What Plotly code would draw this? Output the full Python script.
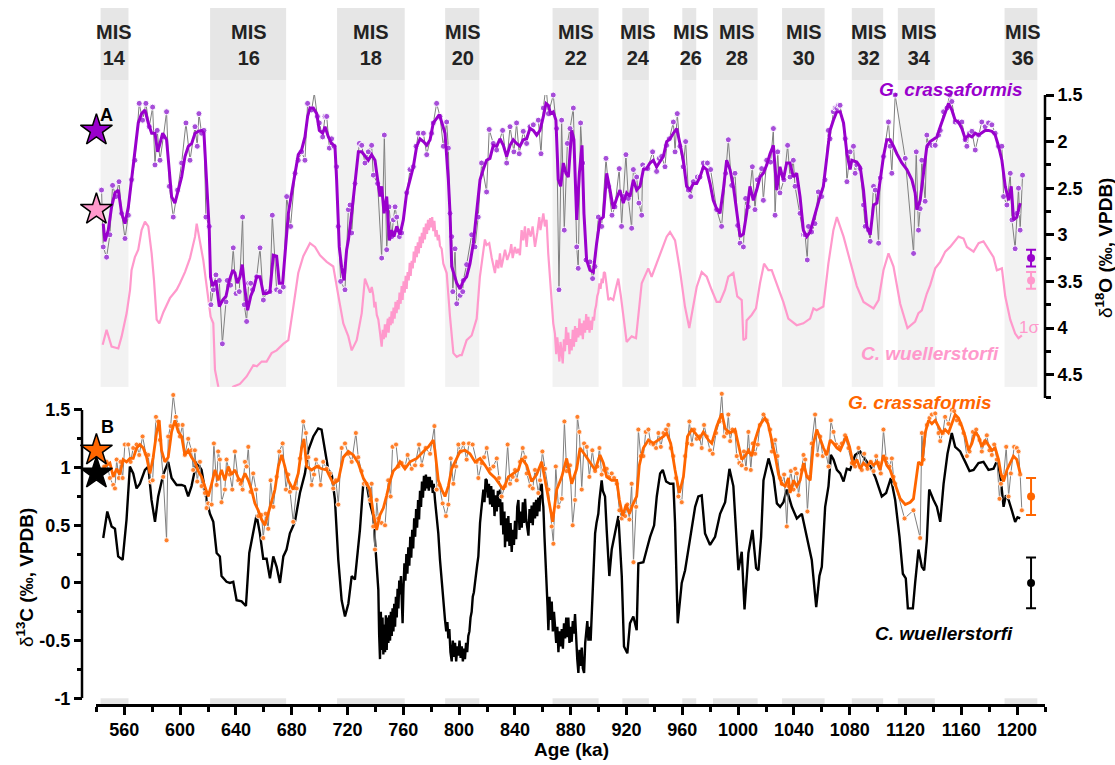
import plotly.graph_objects as go

# ---------------- DATA ----------------
x_ticks = list(range(560, 1201, 40))
d18o_ticks = [1.5, 2, 2.5, 3, 3.5, 4, 4.5]
d13c_ticks = [-1, -0.5, 0, 0.5, 1, 1.5]
d13c_ticktext = ["-1", "-0.5", "0", "0.5", "1", "1.5"]

mis_names = ["14", "16", "18", "20", "22", "24", "26", "28", "30", "32", "34", "36"]
mis_start = [543, 621.5, 712.5, 790, 867, 917, 960, 982, 1031.5, 1081.5, 1114.5, 1191]
mis_end = [563, 676, 761, 814.5, 900, 936, 970, 1014, 1062, 1104, 1141, 1214.5]
mis_label_age = [552.5, 649.5, 737, 803, 884, 928, 966, 999, 1047, 1093.5, 1129.5, 1204]

# G. crassaformis d18O, smoothed
gc_d18o_smooth = [(544.9,2.88),(546.1,3.07),(548.5,2.95),(550.9,2.70),(553.3,2.55),(555.7,2.52),(558.1,2.77),(560.5,2.88),(562.9,2.70),(565.2,2.41),(567.6,2.05),(570.0,1.80),(572.4,1.70),(574.8,1.66),(577.2,1.80),(579.6,1.91),(582.0,1.91),(583.9,2.11),(585.6,2.02),(587.5,1.91),(590.3,1.98),(592.3,2.30),(593.9,2.59),(596.3,2.66),(598.7,2.52),(601.1,2.38),(603.5,2.16),(605.9,2.05),(608.3,2.02),(610.7,1.91),(613.0,1.89),(615.4,1.88),(617.1,1.91),(619.0,2.41),(620.9,2.95),(621.8,3.45),(623.3,3.55),(625.7,3.49),(628.1,3.77),(630.5,3.70),(632.9,3.66),(635.3,3.49),(637.7,3.38),(639.3,3.41),(641.0,3.52),(642.9,3.45),(644.6,3.32),(646.5,3.59),(648.4,3.81),(650.6,3.66),(652.5,3.59),(654.9,3.45),(657.3,3.45),(659.7,3.63),(662.0,3.63),(664.4,3.61),(666.8,3.22),(669.2,3.23),(671.1,3.52),(673.5,3.52),(675.2,3.20),(677.6,2.77),(680.0,2.55),(682.4,2.34),(684.7,2.14),(687.1,2.09),(689.5,1.95),(691.4,1.73),(693.1,1.64),(695.5,1.64),(697.9,1.70),(699.8,1.88),(702.2,1.91),(703.9,1.84),(706.3,1.95),(708.6,2.02),(711.0,2.05),(712.2,2.41),(714.1,3.13),(715.8,3.35),(717.5,3.49),(719.4,3.16),(720.6,3.06),(723.0,2.77),(725.4,2.45),(727.8,2.11),(730.2,2.11),(732.5,2.16),(734.9,2.20),(737.3,2.14),(739.7,2.20),(741.6,2.41),(743.3,2.59),(744.5,2.48),(746.2,2.77),(748.1,2.59),(750.0,3.06),(751.7,2.95),(753.3,3.02),(755.3,2.91),(757.6,3.00),(760.0,2.84),(762.4,2.55),(764.8,2.41),(767.2,2.27),(769.6,2.05),(772.0,1.97),(774.4,2.00),(776.8,2.04),(779.2,1.98),(781.5,1.80),(783.9,1.75),(785.8,1.71),(787.5,1.79),(789.9,1.91),(792.3,2.41),(793.5,2.77),(794.7,3.34),(795.9,3.40),(798.3,3.52),(800.7,3.58),(803.1,3.49),(805.4,3.45),(807.8,3.31),(810.2,3.09),(812.6,2.77),(815.0,2.41),(817.3,2.30),(819.7,2.20),(822.1,2.18),(824.5,2.04),(826.9,2.05),(829.3,1.97),(831.7,2.04),(834.1,2.16),(836.5,2.04),(838.8,1.98),(841.2,2.02),(843.6,2.05),(846.0,1.98),(848.4,1.97),(850.8,1.86),(853.2,1.88),(855.6,1.93),(858.0,1.88),(860.4,1.73),(862.3,1.59),(864.0,1.61),(865.6,1.70),(867.5,1.68),(869.4,1.77),(871.1,2.41),(872.8,2.48),(874.7,2.23),(876.6,2.34),(878.3,2.38),(880.7,1.88),(882.3,1.98),(884.3,2.84),(886.2,2.34),(888.1,2.04),(889.5,2.77),(891.4,3.27),(893.8,3.38),(896.2,3.40),(898.6,3.09),(901.0,2.84),(903.4,2.81),(905.8,2.34),(908.2,2.52),(910.5,2.72),(912.9,2.61),(915.3,2.52),(917.7,2.66),(920.1,2.55),(922.5,2.59),(924.9,2.41),(927.3,2.52),(929.7,2.48),(932.1,2.30),(934.4,2.29),(936.8,2.23),(939.2,2.20),(941.6,2.27),(944.0,2.22),(946.4,2.16),(948.8,2.00),(951.2,1.97),(953.6,1.91),(956.0,1.86),(958.3,2.02),(960.7,2.20),(963.1,2.48),(965.5,2.52),(967.9,2.45),(970.3,2.45),(972.7,2.38),(975.1,2.27),(977.5,2.30),(979.9,2.45),(982.2,2.63),(984.6,2.72),(987.0,2.77),(989.4,2.52),(991.8,2.20),(994.2,2.30),(996.6,2.48),(999.0,2.77),(1001.4,3.02),(1003.8,2.99),(1006.1,2.77),(1008.5,2.48),(1010.9,2.63),(1013.3,2.52),(1015.7,2.38),(1018.1,2.34),(1020.5,2.25),(1022.9,2.13),(1025.3,2.04),(1027.7,2.52),(1030.0,2.27),(1032.4,2.41),(1034.8,2.23),(1037.2,2.23),(1039.6,2.38),(1042.0,2.34),(1044.4,2.59),(1046.8,2.95),(1049.2,3.02),(1051.6,2.97),(1053.9,2.84),(1056.3,2.70),(1058.7,2.59),(1061.1,2.48),(1063.5,2.20),(1065.9,1.88),(1068.3,1.77),(1070.7,1.68),(1073.2,1.68),(1075.6,1.80),(1078.0,2.13),(1080.3,2.30),(1081.5,2.20),(1085.1,2.22),(1087.5,2.27),(1089.9,2.52),(1092.3,2.91),(1094.7,3.00),(1097.1,2.68),(1099.5,2.66),(1101.9,2.41),(1104.2,2.16),(1106.6,1.98),(1109.0,1.98),(1111.4,2.05),(1113.8,2.13),(1117.4,2.23),(1121.0,2.30),(1124.6,2.41),(1126.9,2.55),(1128.1,2.73),(1130.5,2.63),(1132.9,2.34),(1135.3,2.05),(1137.7,2.00),(1142.5,1.95),(1144.9,1.84),(1147.3,1.73),(1150.8,1.59),(1153.2,1.66),(1155.6,1.77),(1158.0,1.79),(1160.4,1.86),(1162.8,1.97),(1165.2,1.93),(1167.6,1.95),(1170.0,1.91),(1172.4,1.93),(1174.7,1.91),(1177.1,1.88),(1179.5,1.88),(1181.9,1.89),(1184.3,1.93),(1186.7,2.05),(1189.1,2.20),(1191.5,2.48),(1193.9,2.63),(1195.8,2.48),(1197.5,2.84),(1199.8,2.81),(1202.2,2.66)]

# G. crassaformis d18O, measured points
gc_d18o_raw = [(543.7,2.52),(544.9,3.13),(547.3,3.24),(549.7,3.00),(551.6,2.47),(554.0,2.59),(556.2,2.43),(558.1,2.77),(560.5,3.04),(562.9,2.79),(565.2,2.41),(567.6,2.20),(570.7,1.59),(573.1,1.77),(575.5,1.59),(577.9,1.84),(580.3,1.63),(582.0,2.25),(583.6,1.88),(585.6,2.20),(588.0,1.95),(590.3,1.68),(592.3,2.48),(595.1,2.81),(598.2,2.52),(601.1,2.23),(604.2,1.80),(607.1,2.20),(610.7,1.84),(612.3,2.05),(613.5,1.70),(615.4,1.91),(617.1,1.88),(618.5,2.81),(620.9,2.91),(622.1,3.75),(623.8,3.59),(625.7,3.43),(628.1,3.49),(630.3,4.17),(632.9,3.72),(633.8,3.49),(636.2,3.54),(638.1,3.14),(640.1,3.63),(642.4,3.61),(644.8,2.81),(646.0,3.75),(647.7,3.93),(649.1,3.52),(650.6,3.52),(652.0,3.59),(654.9,3.45),(657.3,3.14),(659.7,3.70),(662.0,3.61),(664.4,3.61),(666.1,2.79),(669.2,3.59),(671.6,3.61),(674.0,3.56),(676.4,2.59),(679.2,2.91),(682.4,2.34),(684.7,2.20),(687.1,2.11),(689.5,2.20),(691.4,1.59),(694.3,1.66),(696.2,1.48),(698.4,1.73),(699.8,1.80),(702.2,1.95),(703.9,1.73),(705.1,1.73),(707.0,2.07),(708.6,1.97),(710.3,2.05),(712.2,2.27),(713.4,2.91),(715.1,3.50),(718.2,3.59),(720.6,2.73),(721.8,2.68),(723.0,2.98),(725.4,2.45),(728.5,2.02),(730.2,2.04),(732.5,2.23),(734.9,2.11),(737.3,2.04),(738.5,2.36),(741.6,2.45),(744.5,3.25),(746.4,1.93),(748.1,3.16),(749.8,2.70),(751.7,3.02),(752.9,2.84),(754.1,2.70),(755.3,2.81),(757.2,3.02),(758.8,2.98),(762.4,2.55),(764.8,2.30),(767.2,2.27),(769.1,2.05),(770.8,1.91),(774.4,1.91),(776.8,2.14),(780.3,1.91),(781.5,1.80),(783.9,1.59),(786.3,1.73),(788.7,2.05),(791.1,1.79),(792.3,2.07),(793.5,2.77),(794.7,3.02),(795.5,3.61),(797.1,3.15),(798.3,3.74),(800.7,3.65),(802.6,3.61),(803.0,3.49),(805.4,3.32),(809.0,3.00),(811.4,3.13),(813.7,2.81),(816.1,2.23),(819.7,2.54),(821.6,1.87),(824.5,2.02),(826.9,2.09),(831.2,1.88),(834.1,2.23),(836.5,1.84),(839.3,2.11),(841.2,1.80),(843.1,2.13),(846.0,1.89),(848.4,2.02),(850.8,1.84),(853.2,1.82),(856.8,1.77),(858.7,2.13),(860.4,1.64),(862.3,1.40),(864.0,1.70),(867.5,1.50),(869.9,1.86),(871.6,3.59),(873.5,1.77),(875.4,2.95),(877.6,2.02),(879.5,1.86),(881.9,1.64),(884.3,3.13),(885.4,3.36),(887.1,1.80),(888.6,2.23),(890.9,3.27),(893.8,3.29),(895.7,3.47),(897.4,3.34),(899.8,2.81),(902.2,2.91),(905.3,2.18),(907.0,2.48),(909.6,2.79),(911.7,2.70),(914.8,2.29),(916.5,2.91),(917.7,2.59),(919.6,2.14),(921.3,2.61),(923.7,2.93),(924.9,2.30),(927.3,2.38),(928.9,2.66),(930.9,2.79),(931.6,2.25),(933.2,2.29),(935.2,2.29),(938.7,2.11),(941.6,2.32),(943.5,2.18),(945.2,2.16),(947.6,2.27),(948.8,2.04),(950.7,1.97),(953.6,1.79),(954.8,2.11),(956.4,1.70),(958.3,2.05),(960.7,2.27),(962.4,2.00),(964.3,2.52),(966.0,2.59),(967.9,2.43),(970.8,2.38),(972.7,2.38),(975.1,2.23),(978.0,2.23),(980.3,2.30),(984.6,2.73),(988.2,2.91),(991.1,2.34),(993.0,1.98),(995.4,2.47),(997.8,2.34),(999.7,2.90),(1001.4,3.09),(1003.8,3.13),(1005.4,2.61),(1007.3,2.70),(1010.2,2.27),(1012.1,2.73),(1013.8,2.41),(1016.9,2.29),(1018.1,2.63),(1020.5,2.20),(1023.3,2.22),(1025.3,1.86),(1026.5,2.79),(1028.4,2.11),(1030.0,2.55),(1032.9,2.41),(1035.5,2.04),(1037.2,2.38),(1039.6,2.20),(1040.8,2.48),(1044.4,2.77),(1046.8,3.00),(1048.0,3.00),(1049.6,3.27),(1050.4,2.91),(1052.7,2.97),(1055.1,2.88),(1057.5,2.54),(1059.9,2.59),(1062.3,2.41),(1064.7,1.88),(1065.9,1.97),(1068.3,1.68),(1069.6,1.64),(1070.7,1.64),(1072.0,1.61),(1073.1,1.61),(1076.8,1.97),(1078.0,2.43),(1080.3,2.11),(1082.7,2.05),(1083.9,2.34),(1085.1,2.25),(1087.5,2.29),(1089.9,2.68),(1091.1,2.91),(1093.5,2.95),(1094.7,3.07),(1097.1,2.48),(1098.3,2.52),(1100.7,3.09),(1101.9,2.39),(1104.2,2.16),(1107.8,1.79),(1109.0,2.05),(1110.2,2.34),(1112.6,1.50),(1119.8,2.18),(1125.8,3.20),(1127.7,2.11),(1129.3,2.95),(1130.5,2.72),(1131.7,2.20),(1134.1,2.64),(1135.3,1.93),(1136.5,2.04),(1138.9,2.04),(1141.3,2.04),(1143.7,1.93),(1144.9,1.88),(1147.3,1.68),(1149.7,1.64),(1151.6,1.50),(1153.2,1.57),(1155.6,1.79),(1158.0,1.79),(1160.4,1.79),(1162.8,1.98),(1164.0,2.05),(1165.9,1.91),(1167.6,1.89),(1170.0,2.09),(1172.4,1.93),(1174.7,1.79),(1177.1,1.84),(1179.5,1.80),(1181.9,1.82),(1184.3,1.91),(1186.7,2.05),(1189.1,2.05),(1190.3,2.59),(1192.7,2.68),(1195.1,2.34),(1196.3,2.84),(1198.6,3.15),(1199.8,2.77),(1201.0,2.50),(1202.2,2.95),(1203.9,2.36)]

# C. wuellerstorfi d18O
cw_d18o = [(544.5,4.18),(547.3,4.02),(550.9,4.20),(555.7,4.22),(558.1,4.09),(561.7,3.84),(564.1,3.59),(565.2,3.38),(567.6,3.24),(570.0,3.16),(572.4,2.95),(574.8,2.86),(577.2,2.91),(579.6,3.20),(581.3,3.49),(583.2,3.91),(585.1,3.95),(588.0,3.83),(592.7,3.68),(597.5,3.59),(599.9,3.52),(603.5,3.40),(607.1,3.25),(610.7,3.02),(611.9,2.88),(614.2,3.06),(616.6,3.27),(618.5,3.49),(620.2,3.66),(621.9,3.88),(623.8,3.95),(625.0,4.45),(627.4,4.63),(630.5,4.83),(633.4,4.74),(638.1,4.63),(642.9,4.60),(647.7,4.52),(652.5,4.40),(655.0,4.41),(658.5,4.36),(662.0,4.36),(665.6,4.27),(669.2,4.24),(674.0,4.17),(677.6,4.13),(681.2,3.77),(684.7,3.41),(688.3,3.23),(693.1,3.09),(696.7,3.13),(700.3,3.22),(705.1,3.29),(709.8,3.34),(713.4,3.65),(717.0,3.95),(720.6,4.09),(723.0,4.24),(726.6,4.13),(730.2,3.84),(732.5,3.47),(734.9,3.58),(736.2,3.62),(737.4,3.56),(738.5,3.65),(739.3,3.78),(740.0,3.72),(741.0,3.86),(742.1,3.91),(743.3,4.05),(744.5,4.20),(745.3,4.02),(746.0,4.12),(746.8,3.96),(747.4,4.10),(748.1,4.00),(748.9,3.90),(749.5,4.05),(750.2,3.88),(751.0,3.97),(751.6,3.82),(752.3,3.95),(753.0,3.78),(753.8,3.90),(754.4,3.72),(755.2,3.84),(756.0,3.70),(756.6,3.80),(757.3,3.62),(758.1,3.74),(758.8,3.55),(759.5,3.70),(760.2,3.50),(761.0,3.62),(761.7,3.44),(762.4,3.58),(763.1,3.40),(763.9,3.49),(764.6,3.30),(765.3,3.44),(766.0,3.28),(766.8,3.36),(767.5,3.18),(768.2,3.30),(768.9,3.12),(769.7,3.24),(770.4,3.08),(771.1,3.20),(771.8,3.02),(772.6,3.14),(773.3,2.98),(774.0,3.09),(774.7,2.92),(775.5,3.05),(776.2,2.88),(777.0,2.99),(777.7,2.84),(778.4,2.95),(779.2,2.82),(780.0,2.92),(780.7,2.81),(781.5,2.96),(782.3,2.85),(783.1,3.02),(783.9,2.95),(784.7,3.06),(785.5,3.00),(786.3,3.12),(787.5,3.15),(788.7,3.31),(791.1,3.41),(793.5,3.88),(795.9,4.27),(798.3,4.31),(800.6,4.29),(801.9,4.29),(805.4,4.13),(809.0,4.08),(812.6,3.90),(814.9,3.45),(817.3,3.20),(818.5,3.05),(819.7,3.11),(821.6,3.09),(823.3,3.24),(825.7,3.41),(826.9,3.27),(828.1,3.36),(829.3,3.20),(830.3,3.35),(831.2,3.29),(832.9,3.16),(834.5,3.27),(836.5,3.18),(837.4,3.10),(838.4,3.25),(840.0,3.13),(841.2,3.20),(842.4,3.15),(843.6,3.22),(844.8,2.95),(846.0,3.06),(847.2,2.91),(848.4,3.13),(849.6,2.93),(851.3,3.02),(852.7,2.91),(853.5,3.05),(854.4,3.13),(856.0,2.98),(857.5,2.81),(858.3,2.95),(859.2,2.88),(860.4,2.77),(861.5,2.91),(862.7,2.84),(863.9,3.20),(865.1,3.49),(866.3,3.66),(867.5,3.95),(868.7,4.06),(869.6,4.28),(870.4,4.10),(871.1,4.27),(871.9,4.36),(872.7,4.15),(873.5,4.30),(874.3,4.38),(875.1,4.12),(875.9,4.25),(876.7,3.99),(877.5,4.18),(878.3,4.05),(879.1,4.28),(879.9,4.12),(880.7,4.24),(881.5,4.02),(882.3,4.20),(883.1,3.98),(883.9,4.15),(884.7,4.00),(885.5,4.10),(886.3,3.90),(887.1,4.08),(887.9,3.95),(888.7,4.12),(889.5,3.92),(890.3,4.05),(891.1,3.85),(891.9,4.02),(892.7,3.88),(893.5,4.05),(894.3,3.92),(895.1,4.02),(895.9,3.88),(896.7,3.92),(897.4,3.81),(898.2,3.76),(899.0,3.66),(899.8,3.62),(900.6,3.52),(901.4,3.58),(902.2,3.47),(903.0,3.52),(903.8,3.40),(904.6,3.41),(905.8,3.55),(907.0,3.70),(908.5,3.68),(910.5,3.70),(912.3,3.58),(914.1,3.47),(915.9,3.65),(917.7,3.88),(920.1,4.15),(923.7,4.09),(926.8,4.11),(930.9,3.52),(933.0,3.45),(935.6,3.36),(938.0,3.45),(941.6,3.31),(945.2,3.16),(948.8,3.02),(951.2,2.97),(954.8,3.06),(958.3,3.38),(961.9,3.77),(965.0,4.00),(967.9,3.77),(970.3,3.56),(973.9,3.40),(977.5,3.45),(981.0,3.59),(984.6,3.72),(987.0,3.72),(990.6,3.59),(993.0,3.45),(996.6,3.41),(999.4,3.66),(1002.6,3.70),(1003.8,4.13),(1005.7,4.11),(1006.1,3.92),(1009.7,3.86),(1012.8,3.79),(1015.7,3.52),(1018.6,3.31),(1021.7,3.38),(1024.1,3.38),(1027.7,3.52),(1032.4,3.72),(1036.0,3.90),(1042.0,3.97),(1046.8,3.95),(1051.6,3.90),(1054.0,3.79),(1056.3,3.81),(1061.1,3.77),(1064.7,3.31),(1068.3,2.95),(1070.8,2.81),(1075.6,3.02),(1080.3,3.27),(1085.1,3.55),(1089.9,3.72),(1097.1,3.79),(1100.7,3.70),(1104.2,3.38),(1107.8,3.20),(1111.4,3.34),(1116.2,3.74),(1121.4,4.00),(1126.9,3.93),(1129.3,3.84),(1131.7,3.81),(1135.3,3.63),(1137.7,3.54),(1141.3,3.36),(1144.9,3.29),(1148.5,3.18),(1152.0,3.13),(1158.0,3.02),(1161.6,3.04),(1164.0,3.13),(1168.8,3.18),(1172.4,3.09),(1175.9,3.07),(1179.5,3.16),(1183.1,3.24),(1185.5,3.38),(1189.1,3.36),(1191.5,3.66),(1195.1,3.91),(1198.6,4.06),(1201.0,4.11),(1203.4,4.08)]

# C. wuellerstorfi d13C
cw_d13c = [(544.9,0.39),(547.8,0.62),(550.9,0.49),(553.3,0.47),(555.6,0.23),(558.8,0.20),(561.6,0.55),(564.0,1.01),(566.4,0.95),(568.8,0.82),(571.2,0.86),(574.8,0.98),(577.2,1.01),(579.5,0.72),(582.0,0.53),(584.3,0.75),(587.9,0.94),(591.5,1.05),(593.9,0.91),(597.5,0.85),(601.1,0.85),(603.4,0.84),(605.8,0.75),(608.2,0.84),(611.8,1.05),(615.4,0.98),(619.0,0.72),(621.4,0.60),(623.8,0.53),(626.2,0.26),(628.5,0.23),(629.7,0.06),(633.3,0.01),(635.7,0.0),(638.1,0.01),(640.5,-0.15),(644.1,-0.16),(647.2,-0.20),(649.6,0.26),(652.0,0.40),(654.8,0.59),(657.2,0.43),(659.6,0.21),(662.0,0.21),(664.4,0.04),(666.8,0.23),(669.2,0.14),(671.6,0.0),(674.0,0.23),(676.3,0.29),(678.7,0.43),(682.3,0.53),(685.9,0.78),(689.5,0.95),(691.9,1.15),(695.5,1.27),(699.0,1.34),(701.4,1.33),(703.8,1.17),(706.2,0.98),(708.6,0.95),(711.0,0.72),(713.4,0.20),(715.8,-0.15),(718.2,-0.29),(720.6,-0.18),(723.0,0.06),(725.3,0.03),(728.9,0.46),(731.3,0.86),(733.7,0.86),(736.1,0.69),(738.5,0.58),(740.9,0.17),(741.5,0.10),(742.1,-0.06),(742.7,-0.45),(743.3,-0.66),(743.9,-0.25),(744.5,-0.58),(745.1,-0.30),(745.7,-0.62),(746.3,-0.36),(746.9,-0.60),(747.5,-0.28),(748.1,-0.58),(748.7,-0.30),(749.3,-0.52),(749.9,-0.28),(750.5,-0.50),(751.1,-0.25),(751.7,-0.46),(752.3,-0.22),(752.9,-0.42),(753.5,-0.18),(754.1,-0.38),(754.7,-0.12),(755.3,-0.30),(755.9,-0.05),(756.5,-0.22),(757.1,0.02),(757.7,-0.10),(758.3,0.06),(758.9,-0.25),(759.5,-0.35),(760.1,-0.05),(760.8,0.17),(761.5,0.02),(762.2,0.25),(762.9,0.08),(763.6,0.31),(764.3,0.15),(765.0,0.40),(765.7,0.22),(766.4,0.46),(767.1,0.30),(767.8,0.56),(768.5,0.40),(769.2,0.64),(769.9,0.48),(770.6,0.72),(771.3,0.55),(772.0,0.80),(772.7,0.66),(773.4,0.88),(774.1,0.74),(774.8,0.93),(775.5,0.80),(776.2,0.94),(776.9,0.82),(777.6,0.92),(778.3,0.80),(779.0,0.92),(779.7,0.83),(780.4,0.89),(781.1,0.78),(781.8,0.86),(782.7,0.72),(784.0,0.55),(785.1,0.43),(786.3,0.20),(787.5,0.0),(788.7,-0.18),(789.9,-0.32),(790.8,-0.42),(791.6,-0.34),(792.3,-0.48),(793.0,-0.40),(793.8,-0.60),(794.7,-0.68),(795.5,-0.50),(796.3,-0.64),(797.1,-0.52),(797.9,-0.68),(798.7,-0.55),(799.5,-0.63),(800.3,-0.50),(801.1,-0.65),(801.9,-0.55),(802.7,-0.68),(803.5,-0.57),(804.2,-0.66),(805.0,-0.52),(805.8,-0.60),(806.6,-0.46),(807.4,-0.42),(808.2,-0.30),(809.0,-0.25),(809.8,-0.12),(810.6,-0.08),(811.4,0.0),(812.2,0.10),(813.0,0.16),(813.8,0.23),(814.4,0.40),(815.0,0.52),(815.8,0.62),(816.6,0.74),(817.4,0.81),(818.2,0.70),(819.0,0.90),(819.8,0.89),(820.6,0.74),(821.4,0.86),(822.2,0.68),(823.0,0.84),(823.8,0.66),(824.6,0.81),(825.4,0.58),(826.2,0.76),(827.0,0.62),(827.8,0.80),(828.6,0.66),(829.3,0.81),(830.1,0.50),(830.9,0.70),(831.7,0.42),(832.5,0.62),(832.9,0.31),(833.7,0.56),(834.5,0.36),(835.3,0.58),(836.1,0.32),(836.9,0.52),(837.7,0.27),(838.5,0.46),(839.3,0.33),(840.1,0.54),(840.9,0.38),(841.7,0.66),(842.5,0.72),(843.3,0.46),(844.1,0.62),(844.9,0.48),(845.7,0.70),(846.5,0.52),(847.3,0.73),(848.1,0.55),(848.9,0.46),(849.7,0.41),(850.5,0.64),(851.3,0.52),(852.0,0.67),(852.8,0.50),(853.6,0.70),(854.4,0.56),(855.2,0.72),(856.0,0.58),(856.8,0.74),(857.6,0.62),(858.4,0.82),(859.2,0.86),(860.0,0.70),(860.4,0.66),(861.2,0.40),(862.0,0.20),(862.8,0.06),(863.4,-0.20),(864.0,-0.41),(864.8,-0.12),(865.6,-0.32),(866.4,-0.16),(867.2,-0.42),(868.0,-0.25),(868.8,-0.38),(869.6,-0.52),(870.4,-0.38),(871.2,-0.60),(872.0,-0.42),(872.8,-0.55),(873.6,-0.40),(874.4,-0.57),(875.2,-0.35),(876.0,-0.48),(876.8,-0.30),(877.6,-0.47),(878.3,-0.30),(879.1,-0.52),(879.9,-0.38),(880.7,-0.51),(881.5,-0.33),(882.3,-0.44),(883.1,-0.27),(883.9,-0.52),(884.7,-0.66),(885.5,-0.78),(886.3,-0.58),(887.1,-0.72),(887.9,-0.56),(888.7,-0.74),(889.6,-0.78),(890.4,-0.52),(891.2,-0.40),(891.9,-0.33),(892.7,-0.50),(893.5,-0.38),(894.3,-0.50),(895.1,-0.25),(895.8,0.0),(896.6,0.25),(897.5,0.43),(898.5,0.52),(899.8,0.60),(900.6,0.72),(901.4,0.80),(902.2,0.89),(903.0,0.80),(904.6,0.75),(905.8,0.46),(906.8,0.25),(907.7,0.06),(909.4,0.29),(911.8,0.43),(914.2,0.58),(916.6,0.06),(918.2,-0.55),(920.6,-0.61),(922.5,-0.35),(924.9,-0.29),(927.3,-0.41),(928.5,0.17),(932.1,0.18),(934.5,0.29),(936.9,0.40),(939.8,0.50),(941.7,0.75),(944.1,0.95),(946.0,0.98),(948.4,0.88),(951.2,0.86),(953.6,0.86),(954.8,0.52),(956.7,-0.35),(959.6,0.0),(962.0,0.11),(965.6,0.40),(969.2,0.66),(971.5,0.75),(973.9,0.76),(976.3,0.43),(979.9,0.33),(983.5,0.40),(987.1,0.60),(990.7,0.70),(993.8,0.99),(996.6,0.84),(1000.2,0.11),(1002.6,0.27),(1004.6,-0.23),(1007.4,0.26),(1010.3,0.46),(1012.9,0.13),(1014.6,0.11),(1016.5,0.40),(1018.2,0.89),(1021.8,1.08),(1025.4,0.92),(1027.8,0.69),(1030.1,0.66),(1032.5,0.70),(1034.9,0.81),(1038.5,0.66),(1042.1,0.56),(1045.7,0.60),(1049.3,0.40),(1052.8,0.20),(1056.0,-0.21),(1058.3,0.06),(1060.0,0.14),(1062.4,0.66),(1064.8,0.84),(1066.5,1.11),(1068.4,1.07),(1070.8,0.98),(1073.2,0.95),(1075.6,0.88),(1077.9,0.99),(1080.3,0.98),(1083.9,1.11),(1087.5,1.14),(1091.1,1.07),(1094.7,1.01),(1098.3,0.92),(1100.6,0.84),(1103.0,0.75),(1106.1,0.78),(1109.5,0.91),(1112.6,0.72),(1115.7,0.40),(1118.1,0.08),(1120.2,0.04),(1121.7,-0.22),(1125.3,-0.22),(1126.9,0.0),(1129.3,0.29),(1131.7,0.14),(1133.4,0.11),(1135.3,0.37),(1137.0,0.81),(1140.1,0.72),(1142.5,0.66),(1144.9,0.53),(1147.3,0.86),(1150.1,1.12),(1153.2,1.30),(1155.6,1.18),(1159.2,1.14),(1162.8,1.05),(1165.9,0.97),(1168.8,0.98),(1172.3,1.04),(1175.9,1.05),(1179.5,0.98),(1183.1,0.99),(1186.0,1.07),(1188.4,0.89),(1190.3,0.66),(1192.0,0.76),(1193.9,0.72),(1196.2,0.63),(1198.6,0.53),(1200.3,0.57),(1202.2,0.56)]

# G. crassaformis d13C, smoothed
gc_d13c_smooth = [(544.9,0.99),(547.3,1.02),(549.7,1.04),(552.1,0.92),(554.5,0.99),(556.8,0.94),(559.2,1.07),(561.6,1.05),(564.0,1.08),(566.4,1.08),(568.8,1.17),(571.2,1.20),(573.6,1.17),(576.0,1.09),(578.4,0.95),(580.7,1.09),(583.1,1.30),(585.0,1.41),(586.7,1.15),(589.1,1.05),(591.5,1.09),(593.9,1.31),(596.3,1.41),(598.7,1.31),(601.1,1.27),(603.4,1.11),(605.8,1.15),(608.2,1.09),(610.6,1.05),(613.0,0.97),(615.4,0.92),(617.8,0.84),(620.2,0.75),(622.6,0.86),(625.0,0.98),(627.3,0.89),(629.7,0.98),(632.1,0.89),(634.5,1.01),(636.9,0.94),(639.3,0.98),(641.7,0.91),(644.1,0.88),(646.5,0.95),(648.9,0.89),(651.2,0.81),(653.6,0.69),(656.0,0.63),(658.4,0.55),(660.8,0.50),(663.2,0.60),(665.6,0.72),(668.0,0.81),(670.4,1.01),(672.8,1.11),(675.1,1.01),(677.5,0.89),(681.1,0.81),(684.7,0.95),(687.1,1.17),(688.8,1.25),(690.7,1.01),(694.3,0.98),(697.9,1.01),(701.4,0.99),(705.0,0.98),(709.8,0.86),(713.4,0.89),(717.0,1.09),(720.6,1.14),(724.1,1.11),(727.7,1.04),(731.3,0.91),(733.7,0.86),(736.1,0.81),(738.5,0.60),(740.9,0.46),(743.3,0.59),(745.7,0.65),(748.1,0.76),(750.4,0.88),(752.8,0.97),(755.2,1.00),(757.6,1.05),(761.2,0.99),(764.8,1.05),(769.6,1.08),(774.4,1.14),(778.0,1.18),(781.5,1.24),(782.7,1.15),(785.1,0.89),(787.5,0.81),(789.9,0.75),(792.3,0.84),(794.7,0.99),(797.1,1.05),(800.7,1.14),(804.2,1.15),(807.8,1.12),(811.4,1.05),(815.0,1.08),(818.6,1.02),(822.2,0.95),(825.8,0.91),(829.3,0.85),(831.7,0.81),(835.3,0.92),(838.9,0.95),(842.5,0.98),(844.9,1.08),(848.5,1.02),(852.0,0.88),(855.6,0.94),(859.2,1.05),(862.1,0.86),(864.7,0.69),(867.1,0.53),(870.0,0.81),(873.6,0.92),(877.1,1.08),(880.7,0.86),(884.3,0.99),(886.7,1.17),(890.3,1.11),(893.9,1.04),(897.5,0.98),(901.0,1.11),(903.4,1.04),(905.8,0.92),(909.4,0.89),(913.0,0.89),(914.9,0.72),(917.3,0.58),(919.7,0.68),(922.1,0.60),(924.5,0.68),(927.3,0.75),(929.2,1.02),(932.1,1.17),(935.7,1.24),(939.3,1.21),(942.9,1.24),(946.5,1.27),(948.8,1.30),(951.7,1.21),(954.8,0.98),(957.9,0.78),(960.8,0.92),(963.7,1.27),(966.8,1.33),(969.2,1.30),(972.3,1.25),(975.1,1.31),(978.7,1.24),(981.1,1.21),(984.7,1.36),(988.3,1.47),(990.7,1.34),(994.2,1.30),(997.8,1.33),(1000.2,1.21),(1002.6,1.07),(1005.0,1.10),(1007.4,1.15),(1009.8,1.10),(1012.2,1.24),(1015.6,1.37),(1019.2,1.43),(1021.5,1.38),(1024.2,1.24),(1026.6,1.10),(1029.0,0.94),(1031.3,0.86),(1033.7,0.84),(1036.1,0.91),(1037.3,0.78),(1039.7,0.89),(1042.1,0.84),(1044.5,0.89),(1046.9,1.04),(1049.3,0.92),(1051.7,0.89),(1054.0,1.21),(1056.4,1.33),(1058.8,1.24),(1061.2,1.17),(1063.6,1.11),(1066.0,1.24),(1068.4,1.21),(1070.8,1.17),(1073.2,1.15),(1075.6,1.21),(1077.5,1.27),(1079.9,1.18),(1082.7,1.02),(1085.1,1.07),(1087.5,0.99),(1089.9,1.04),(1092.3,1.01),(1094.7,1.05),(1097.1,1.02),(1099.5,1.05),(1101.8,0.98),(1104.2,1.11),(1106.6,1.02),(1109.0,0.98),(1111.4,0.89),(1113.8,0.81),(1116.2,0.73),(1119.8,0.68),(1123.4,0.70),(1125.7,0.73),(1127.7,0.92),(1129.3,1.05),(1131.7,1.02),(1134.1,1.30),(1136.5,1.41),(1138.9,1.38),(1141.3,1.41),(1143.7,1.36),(1146.1,1.30),(1148.4,1.33),(1150.8,1.30),(1153.2,1.38),(1155.6,1.46),(1158.0,1.43),(1160.4,1.36),(1162.8,1.27),(1165.2,1.15),(1167.6,1.21),(1170.0,1.31),(1172.3,1.27),(1174.7,1.18),(1177.1,1.24),(1179.5,1.20),(1181.9,1.15),(1184.3,1.17),(1186.7,1.07),(1188.4,0.95),(1190.3,0.88),(1192.7,0.98),(1195.1,1.04),(1197.4,1.10),(1199.8,1.07),(1202.2,0.95)]

# G. crassaformis d13C, measured points
gc_d13c_raw = [(545.6,1.01),(547.3,1.05),(549.7,0.91),(552.1,0.85),(553.3,0.82),(554.5,1.07),(556.1,0.91),(557.3,1.05),(558.8,0.91),(560.4,1.20),(562.8,1.20),(564.5,1.05),(566.4,1.17),(568.8,1.20),(570.7,1.11),(573.1,1.27),(575.5,1.12),(577.2,1.11),(578.8,0.88),(580.3,0.89),(582.7,1.44),(584.3,1.40),(585.5,1.24),(587.9,0.92),(590.3,0.37),(591.5,1.27),(593.2,1.36),(595.1,1.63),(597.0,1.44),(598.7,1.37),(599.9,1.27),(601.8,1.37),(603.4,1.11),(605.8,1.25),(608.2,1.15),(609.4,0.98),(610.6,1.15),(612.3,0.88),(614.2,1.05),(615.4,0.84),(617.8,0.78),(619.0,0.65),(620.2,0.69),(622.6,0.68),(624.2,1.21),(626.2,0.85),(627.3,1.14),(628.5,1.07),(629.7,0.70),(632.1,0.81),(633.3,1.07),(635.7,0.94),(637.4,0.81),(639.3,1.14),(641.7,0.89),(643.4,0.86),(644.8,0.81),(646.5,1.05),(647.7,1.01),(648.9,1.18),(650.5,0.79),(652.4,0.95),(654.4,0.81),(656.0,0.58),(658.4,0.59),(659.6,0.39),(661.3,0.60),(663.2,0.47),(664.9,0.89),(666.8,0.66),(669.2,0.92),(671.1,1.14),(673.5,1.21),(675.9,0.81),(677.5,0.94),(678.7,0.79),(681.1,0.53),(683.5,0.82),(685.9,1.08),(688.3,1.40),(690.2,1.30),(691.9,1.09),(694.3,0.85),(696.0,0.94),(697.4,1.07),(699.0,1.01),(700.7,0.85),(702.6,1.05),(705.0,0.99),(707.4,0.95),(709.8,0.82),(711.7,0.89),(713.4,0.68),(715.8,1.17),(718.2,1.21),(720.6,1.12),(723.0,1.05),(726.0,1.30),(727.7,1.09),(730.1,0.97),(731.8,0.86),(733.7,0.86),(736.1,0.72),(737.3,0.86),(738.5,0.49),(739.7,0.29),(740.9,0.72),(742.1,0.56),(744.5,0.52),(746.9,0.50),(749.2,0.89),(750.9,0.75),(752.3,1.18),(754.8,1.20),(756.4,1.01),(758.8,1.04),(761.2,1.01),(763.1,1.11),(766.0,0.99),(768.4,1.02),(771.3,1.20),(773.2,1.02),(776.0,1.17),(779.2,1.12),(782.3,1.36),(783.9,0.81),(785.8,0.85),(788.2,0.69),(790.6,0.58),(792.3,0.68),(794.0,1.08),(795.9,0.86),(797.8,1.01),(799.5,1.20),(801.1,1.14),(803.1,1.21),(805.4,1.07),(807.1,1.21),(809.7,1.20),(812.6,1.05),(813.8,0.91),(816.2,1.04),(817.9,1.09),(819.8,1.17),(822.2,0.99),(824.6,1.01),(827.0,1.08),(828.6,0.91),(830.5,0.75),(832.9,0.84),(834.8,1.20),(836.5,0.86),(838.4,0.92),(840.1,0.98),(841.3,0.89),(843.7,1.05),(845.6,1.17),(847.3,1.09),(848.5,0.95),(850.9,0.84),(852.8,0.82),(854.4,0.98),(856.8,0.78),(858.0,0.89),(859.7,1.14),(861.6,0.99),(864.0,0.81),(866.4,0.49),(867.6,0.34),(869.3,1.01),(871.2,0.66),(873.6,0.73),(875.5,1.40),(877.1,0.97),(879.5,1.02),(881.4,0.50),(883.1,0.72),(884.8,1.44),(886.2,1.31),(887.9,0.81),(889.6,1.21),(891.5,1.18),(893.4,0.92),(895.5,1.15),(897.5,0.97),(899.1,1.01),(900.6,1.17),(902.2,0.94),(903.9,0.98),(905.8,0.99),(907.7,0.92),(909.4,0.95),(911.1,0.91),(913.0,0.86),(914.9,0.63),(916.6,0.56),(919.0,0.58),(920.6,0.68),(922.1,0.55),(923.7,0.86),(925.0,0.18),(926.9,0.66),(928.5,1.33),(930.2,1.10),(932.1,1.10),(933.8,1.31),(935.7,1.33),(937.4,1.21),(939.3,1.20),(941.2,1.17),(942.9,1.30),(944.6,1.18),(946.5,1.30),(948.4,1.33),(950.0,1.37),(951.7,1.17),(953.6,1.10),(955.5,0.91),(957.2,0.75),(959.6,0.70),(962.0,1.10),(963.7,1.21),(965.1,1.40),(966.8,1.20),(968.4,1.33),(970.3,1.25),(972.3,1.27),(973.9,1.17),(975.6,1.37),(977.5,1.27),(979.9,1.15),(981.8,1.12),(984.2,1.30),(986.6,1.40),(988.3,1.64),(990.0,1.27),(991.9,1.30),(993.0,1.46),(994.3,1.23),(995.9,1.33),(997.8,1.31),(999.0,1.10),(1000.9,1.04),(1002.6,1.02),(1004.2,1.14),(1005.7,0.99),(1007.4,1.31),(1009.1,0.98),(1010.5,1.21),(1012.2,1.12),(1014.1,1.20),(1015.6,1.37),(1018.2,1.46),(1020.5,1.41),(1022.9,1.33),(1024.2,1.14),(1026.6,1.24),(1028.2,1.10),(1030.1,0.91),(1031.3,0.86),(1033.0,0.94),(1034.9,0.49),(1036.1,0.84),(1037.8,0.97),(1039.7,0.81),(1040.9,0.99),(1042.1,0.95),(1043.3,0.76),(1045.7,0.98),(1046.9,1.11),(1048.1,1.07),(1049.7,0.62),(1051.2,0.92),(1052.8,1.21),(1055.2,1.46),(1056.9,1.11),(1058.8,1.27),(1060.7,1.10),(1063.1,1.12),(1064.8,1.01),(1066.5,1.41),(1068.4,1.31),(1070.3,1.20),(1072.7,1.18),(1074.4,1.21),(1076.7,1.28),(1079.1,1.17),(1081.5,1.04),(1083.9,1.01),(1086.3,1.17),(1088.7,0.98),(1090.4,1.12),(1092.8,0.99),(1095.2,1.05),(1097.1,0.97),(1099.0,1.10),(1100.6,1.04),(1102.3,0.95),(1104.2,1.33),(1106.1,1.08),(1108.5,1.01),(1110.2,1.08),(1111.4,0.92),(1112.6,0.86),(1119.3,0.56),(1125.7,0.63),(1130.5,0.39),(1131.7,1.30),(1132.9,1.07),(1135.3,1.37),(1137.2,1.43),(1138.9,1.46),(1141.3,1.47),(1143.7,1.30),(1144.9,1.23),(1146.8,1.30),(1148.4,1.44),(1150.8,1.38),(1153.2,1.50),(1154.9,1.49),(1156.8,1.41),(1159.2,1.38),(1161.6,1.30),(1164.0,1.10),(1165.9,1.14),(1168.3,1.31),(1170.7,1.33),(1173.1,1.24),(1174.7,1.14),(1176.4,1.21),(1178.3,1.28),(1180.2,1.15),(1181.9,1.11),(1183.6,1.20),(1185.5,1.07),(1187.4,0.73),(1188.4,0.86),(1190.3,0.92),(1192.2,1.18),(1193.9,0.75),(1195.5,0.95),(1197.9,1.18),(1199.8,1.17),(1201.0,1.14),(1202.2,0.94),(1203.4,0.63)]

# analytical uncertainty (1 sigma) markers
err_age = 1210
err_d18o_vals = [3.25, 3.49]
err_d18o_sd = [0.09, 0.09]
err_d13c_vals = [0.75, 0.0]
err_d13c_sd = [0.16, 0.22]

# star markers
star_age = 540
star_d18o = [1.88, 2.73]
star_d13c = [1.15, 0.95]

# ---------------- STYLE ----------------
FONT = "Liberation Sans, Arial, Helvetica, sans-serif"
PURPLE = "#9900cc"
PURPLE_DOT = "#a64dd9"
PINK = "#ff99cc"
ORANGE = "#ff6600"
ORANGE_DOT = "#ff7f2a"
GRAY = "#7f7f7f"
BAND_DARK = "#e6e6e6"
BAND_LIGHT = "#f2f2f2"

L, R, T, B = 82, 70, 8, 60
W, H = 1115, 765
PW, PH = W - L - R, H - T - B


def px_to_paper_x(px):
    return (px - L) / PW


def py_to_paper_y(py):
    return (H - B - py) / PH


def unzip(pairs):
    pairs = sorted(pairs)
    return [p[0] for p in pairs], [p[1] for p in pairs]


fig = go.Figure()

xa, ya = unzip(cw_d18o)
fig.add_trace(go.Scatter(x=xa, y=ya, mode="lines", line=dict(color=PINK, width=2.2),
                         xaxis="x", yaxis="y", hoverinfo="skip"))
xa, ya = unzip(gc_d18o_raw)
fig.add_trace(go.Scatter(x=xa, y=ya, mode="lines+markers",
                         line=dict(color=GRAY, width=1),
                         marker=dict(size=6, color=PURPLE_DOT, line=dict(color="white", width=1)),
                         xaxis="x", yaxis="y", cliponaxis=False, hoverinfo="skip"))
xa, ya = unzip(gc_d18o_smooth)
fig.add_trace(go.Scatter(x=xa, y=ya, mode="lines", line=dict(color=PURPLE, width=3),
                         xaxis="x", yaxis="y", hoverinfo="skip"))

xa, ya = unzip(cw_d13c)
fig.add_trace(go.Scatter(x=xa, y=ya, mode="lines", line=dict(color="black", width=2.4),
                         xaxis="x", yaxis="y2", hoverinfo="skip"))
xa, ya = unzip(gc_d13c_raw)
fig.add_trace(go.Scatter(x=xa, y=ya, mode="lines+markers",
                         line=dict(color=GRAY, width=1),
                         marker=dict(size=5, color=ORANGE_DOT, line=dict(color="white", width=0.8)),
                         xaxis="x", yaxis="y2", cliponaxis=False, hoverinfo="skip"))
xa, ya = unzip(gc_d13c_smooth)
fig.add_trace(go.Scatter(x=xa, y=ya, mode="lines", line=dict(color=ORANGE, width=2.8),
                         xaxis="x", yaxis="y2", hoverinfo="skip"))

for val, sd, col in zip(err_d18o_vals, err_d18o_sd, [PURPLE, PINK]):
    fig.add_trace(go.Scatter(x=[err_age], y=[val], mode="markers",
                             marker=dict(size=8, color=col),
                             error_y=dict(type="data", array=[sd], color=col, thickness=2, width=5),
                             xaxis="x", yaxis="y", hoverinfo="skip"))
for val, sd, col in zip(err_d13c_vals, err_d13c_sd, [ORANGE, "black"]):
    fig.add_trace(go.Scatter(x=[err_age], y=[val], mode="markers",
                             marker=dict(size=8, color=col),
                             error_y=dict(type="data", array=[sd], color=col, thickness=2, width=5),
                             xaxis="x", yaxis="y2", hoverinfo="skip"))

fig.add_trace(go.Scatter(x=[star_age, star_age], y=star_d18o, mode="markers",
                         marker=dict(symbol="star", size=24, color=[PURPLE, PINK],
                                     line=dict(color="black", width=1.5)),
                         xaxis="x", yaxis="y", cliponaxis=False, hoverinfo="skip"))
fig.add_trace(go.Scatter(x=[star_age, star_age], y=star_d13c, mode="markers",
                         marker=dict(symbol="star", size=24, color=[ORANGE, "black"],
                                     line=dict(color="black", width=1.5)),
                         xaxis="x", yaxis="y2", cliponaxis=False, hoverinfo="skip"))

# ---------------- shapes ----------------
shapes = []
y_top_dark = py_to_paper_y(80)
y_bot_dark = py_to_paper_y(688)
for s, e in zip(mis_start, mis_end):
    shapes.append(dict(type="rect", xref="x", yref="paper", x0=s, x1=e, y0=y_top_dark, y1=1,
                       fillcolor=BAND_DARK, line=dict(width=0), layer="below"))
    shapes.append(dict(type="rect", xref="x", yref="paper", x0=s, x1=e, y0=y_bot_dark, y1=y_top_dark,
                       fillcolor=BAND_LIGHT, line=dict(width=0), layer="below"))
    shapes.append(dict(type="rect", xref="x", yref="paper", x0=s, x1=e, y0=0, y1=y_bot_dark,
                       fillcolor=BAND_DARK, line=dict(width=0), layer="below"))
shapes.append(dict(type="line", xref="paper", yref="y", x0=1, x1=1, y0=1.5, y1=4.75,
                   line=dict(color="black", width=2.5)))
shapes.append(dict(type="line", xref="paper", yref="y2", x0=0, x1=0, y0=-1, y1=1.5,
                   line=dict(color="black", width=2.5)))

# ---------------- annotations ----------------
ann = []
for name, age in zip(mis_names, mis_label_age):
    ann.append(dict(x=age, xref="x", y=py_to_paper_y(45), yref="paper",
                    text="<b>MIS<br>" + name + "</b>", showarrow=False,
                    xanchor="center", yanchor="middle",
                    font=dict(family=FONT, size=20, color="#222222"), align="center"))

extra = [
    dict(x=px_to_paper_x(951), y=py_to_paper_y(89), text="<b><i>G. crassaformis</i></b>",
         font=dict(family=FONT, size=19, color=PURPLE)),
    dict(x=px_to_paper_x(930), y=py_to_paper_y(353), text="<b><i>C. wuellerstorfi</i></b>",
         font=dict(family=FONT, size=19, color=PINK)),
    dict(x=px_to_paper_x(920), y=py_to_paper_y(402), text="<b><i>G. crassaformis</i></b>",
         font=dict(family=FONT, size=19, color=ORANGE)),
    dict(x=px_to_paper_x(944), y=py_to_paper_y(633), text="<b><i>C. wuellerstorfi</i></b>",
         font=dict(family=FONT, size=19, color="black")),
    dict(x=px_to_paper_x(1029), y=py_to_paper_y(327), text="1σ",
         font=dict(family=FONT, size=17, color=PINK)),
    dict(x=px_to_paper_x(106), y=py_to_paper_y(115), text="<b>A</b>",
         font=dict(family=FONT, size=18, color="black")),
    dict(x=px_to_paper_x(107), y=py_to_paper_y(427), text="<b>B</b>",
         font=dict(family=FONT, size=18, color="black")),
    dict(x=px_to_paper_x(571), y=py_to_paper_y(750), text="<b>Age (ka)</b>",
         font=dict(family=FONT, size=19, color="black")),
    dict(x=px_to_paper_x(25), y=py_to_paper_y(578), text="δ<b><sup>13</sup>C (‰, VPDB)</b>",
         textangle=-90, font=dict(family=FONT, size=19, color="black")),
    dict(x=px_to_paper_x(1104), y=py_to_paper_y(248), text="δ<b><sup>18</sup>O (‰, VPDB)</b>",
         textangle=-90, font=dict(family=FONT, size=19, color="black")),
]
for a in extra:
    a.update(xref="paper", yref="paper", showarrow=False, xanchor="center", yanchor="middle")
ann += extra

tickfont = dict(family=FONT, size=18, color="black", weight="bold")

fig.update_layout(
    width=W, height=H,
    margin=dict(l=L, r=R, t=T, b=B, pad=0, autoexpand=False),
    paper_bgcolor="white", plot_bgcolor="white",
    showlegend=False,
    shapes=shapes,
    annotations=ann,
    xaxis=dict(
        domain=[px_to_paper_x(96.4), 1], range=[540, 1220], anchor="free", position=0,
        showgrid=False, zeroline=False, showline=True, linecolor="black", linewidth=2.5,
        tickmode="array", tickvals=x_ticks, ticks="outside", ticklen=8, tickwidth=2.5,
        tickcolor="black", tickfont=tickfont, automargin=False,
        minor=dict(tickmode="linear", tick0=540, dtick=40, ticks="outside", ticklen=5,
                   tickwidth=2.5, tickcolor="black"),
    ),
    yaxis=dict(
        domain=[py_to_paper_y(95 + 3.35 * 93.2), py_to_paper_y(95)], range=[4.85, 1.5],
        anchor="x", side="right", automargin=False,
        showgrid=False, zeroline=False, showline=False,
        tickmode="array", tickvals=d18o_ticks, ticks="outside", ticklen=8, tickwidth=2.5,
        tickcolor="black", tickfont=tickfont,
        minor=dict(tickmode="linear", tick0=1.75, dtick=0.5, ticks="outside", ticklen=5,
                   tickwidth=2.5, tickcolor="black"),
    ),
    yaxis2=dict(
        domain=[py_to_paper_y(698.3), py_to_paper_y(386.9)], range=[-1, 1.7],
        anchor="free", position=0, side="left", automargin=False,
        showgrid=False, zeroline=False, showline=False,
        tickmode="array", tickvals=d13c_ticks, ticktext=d13c_ticktext, ticks="outside",
        ticklen=8, tickwidth=2.5, tickcolor="black", tickfont=tickfont,
        minor=dict(tickmode="linear", tick0=-0.75, dtick=0.5, ticks="outside", ticklen=5,
                   tickwidth=2.5, tickcolor="black"),
    ),
)

fig.write_html("out.html")
